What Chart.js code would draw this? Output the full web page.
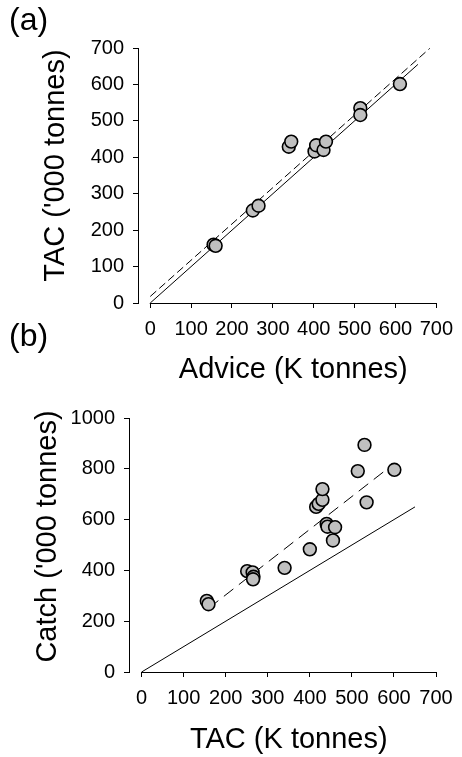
<!DOCTYPE html>
<html>
<head>
<meta charset="utf-8">
<script src="https://cdn.jsdelivr.net/npm/chart.js@4/dist/chart.umd.min.js"></script>
<style>
  html, body { margin: 0; padding: 0; background: #fff; }
  #wrap { position: relative; width: 462px; height: 757px; overflow: hidden; }
  canvas { position: absolute; left: 0; }
  #cA { top: 0; }
  #cB { top: 310px; }
</style>
</head>
<body>
<div id="wrap">
  <canvas id="cA" width="462" height="400"></canvas>
  <canvas id="cB" width="462" height="447"></canvas>
</div>
<script>
// ---------- Panel (a): Advice vs TAC ----------
const adviceA = [155, 160, 251, 265, 339, 345, 402, 406, 424, 430, 514, 514, 611];
const tacA    = [160, 157, 254, 267, 429, 443, 416, 433, 420, 443, 535, 516, 601];
const oneToOneA_x = [0, 655];
const oneToOneA_y = [0, 655];
const fitA_x = [0, 684];
const fitA_y = [18, 699];
const xTicksA = [0, 100, 200, 300, 400, 500, 600, 700];
const yTicksA = [0, 100, 200, 300, 400, 500, 600, 700];

// ---------- Panel (b): TAC vs Catch ----------
const tacB   = [155, 159, 251, 264, 266, 265, 340, 400, 415, 421, 430, 430, 440, 442, 460, 455, 514, 530, 535, 601];
const catchB = [280, 267, 397, 392, 375, 365, 410, 483, 650, 662, 678, 720, 583, 572, 570, 518, 791, 894, 668, 796];
const oneToOneB_x = [0, 650];
const oneToOneB_y = [0, 650];
const fitB_x = [160, 600];
const fitB_y = [252, 820];
const xTicksB = [0, 100, 200, 300, 400, 500, 600, 700];
const yTicksB = [0, 200, 400, 600, 800, 1000];

const FAMILY = '"Liberation Sans", Arial, Helvetica, sans-serif';
const toPts = (xs, ys) => xs.map((v, i) => ({x: v, y: ys[i]}));

const annot = {
  id: 'annot',
  afterDraw(chart, args, o) {
    const ctx = chart.ctx;
    const xs = chart.scales.x, ys = chart.scales.y;
    ctx.save();
    // x axis line spanning the tick range only
    const yb = Math.round(ys.getPixelForValue(0) - 0.5) + 0.5;
    ctx.strokeStyle = '#000';
    ctx.lineWidth = 1;
    ctx.beginPath();
    ctx.moveTo(xs.getPixelForValue(o.xTicks[0]) - 0.5, yb);
    ctx.lineTo(xs.getPixelForValue(o.xTicks[o.xTicks.length - 1]) + 0.5, yb);
    ctx.stroke();
    ctx.fillStyle = '#000';
    ctx.textBaseline = 'alphabetic';
    // panel label
    ctx.font = o.panelSize + 'px ' + FAMILY;
    ctx.textAlign = 'left';
    ctx.fillText(o.panel, o.panelX, o.panelY);
    // x title centred over the tick range
    ctx.font = '29px ' + FAMILY;
    ctx.textAlign = 'center';
    const cx = (xs.getPixelForValue(o.xTicks[0]) + xs.getPixelForValue(o.xTicks[o.xTicks.length - 1])) / 2;
    ctx.fillText(o.xTitle, cx, o.xTitleY);
    // y title
    ctx.translate(o.yTitleX, o.yTitleY);
    ctx.rotate(-Math.PI / 2);
    ctx.fillText(o.yTitle, 0, 0);
    ctx.restore();
  }
};

function makeChart(id, cfg) {
  return new Chart(document.getElementById(id), {
    type: 'scatter',
    data: {
      datasets: [
        {
          data: toPts(cfg.px, cfg.py),
          showLine: false,
          pointRadius: 6.4,
          pointHoverRadius: 6.4,
          pointBackgroundColor: '#c0c0c0',
          pointBorderColor: '#000',
          pointBorderWidth: 1.6
        },
        {
          data: toPts(cfg.fx, cfg.fy),
          showLine: true,
          borderColor: '#000',
          borderWidth: 1,
          borderDash: cfg.dash,
          pointRadius: 0,
          fill: false
        },
        {
          data: toPts(cfg.lx, cfg.ly),
          showLine: true,
          borderColor: '#000',
          borderWidth: 1,
          pointRadius: 0,
          fill: false
        }
      ]
    },
    options: {
      responsive: false,
      animation: false,
      devicePixelRatio: 1,
      layout: { padding: cfg.padding },
      plugins: {
        legend: { display: false },
        tooltip: { enabled: false },
        annot: cfg.annot
      },
      scales: {
        x: {
          type: 'linear',
          min: cfg.xMin,
          max: cfg.xTicks[cfg.xTicks.length - 1],
          afterBuildTicks: s => { s.ticks = cfg.xTicks.map(v => ({value: v})); },
          afterFit: s => { s.height = cfg.xHeight; },
          border: { display: false },
          grid: { drawOnChartArea: false, drawTicks: true, tickLength: 5, color: '#000', lineWidth: 1 },
          ticks: { color: '#000', padding: 9, maxRotation: 0, autoSkip: false, callback: v => String(v), font: { family: FAMILY, size: 20 } }
        },
        y: {
          type: 'linear',
          min: cfg.yTicks[0],
          max: cfg.yTicks[cfg.yTicks.length - 1],
          afterBuildTicks: s => { s.ticks = cfg.yTicks.map(v => ({value: v})); },
          afterFit: s => { s.width = cfg.yWidth; },
          border: { display: true, color: '#000', width: 1 },
          grid: { drawOnChartArea: false, drawTicks: true, tickLength: 5, color: '#000', lineWidth: 1 },
          ticks: { color: '#000', padding: 9, autoSkip: false, callback: v => String(v), font: { family: FAMILY, size: 20 } }
        }
      }
    },
    plugins: [annot]
  });
}

makeChart('cA', {
  px: adviceA, py: tacA,
  fx: fitA_x, fy: fitA_y, dash: [8, 4],
  lx: oneToOneA_x, ly: oneToOneA_y,
  xTicks: xTicksA, yTicks: yTicksA, xMin: -30,
  padding: { top: 48, right: 18, left: 0, bottom: 0 },
  yWidth: 138, xHeight: 97,
  annot: {
    xTicks: xTicksA,
    panel: '(a)', panelSize: 32, panelX: 9, panelY: 30,
    xTitle: 'Advice (K tonnes)', xTitleY: 378,
    yTitle: "TAC ('000 tonnes)", yTitleX: 63.5, yTitleY: 165.5
  }
});

makeChart('cB', {
  px: tacB, py: catchB,
  fx: fitB_x, fy: fitB_y, dash: [12, 7],
  lx: oneToOneB_x, ly: oneToOneB_y,
  xTicks: xTicksB, yTicks: yTicksB, xMin: -30,
  padding: { top: 108, right: 26, left: 0, bottom: 0 },
  yWidth: 129, xHeight: 85,
  annot: {
    xTicks: xTicksB,
    panel: '(b)', panelSize: 32, panelX: 9, panelY: 36,
    xTitle: 'TAC (K tonnes)', xTitleY: 437.5,
    yTitle: "Catch ('000 tonnes)", yTitleX: 56, yTitleY: 226.5
  }
});
</script>
</body>
</html>
